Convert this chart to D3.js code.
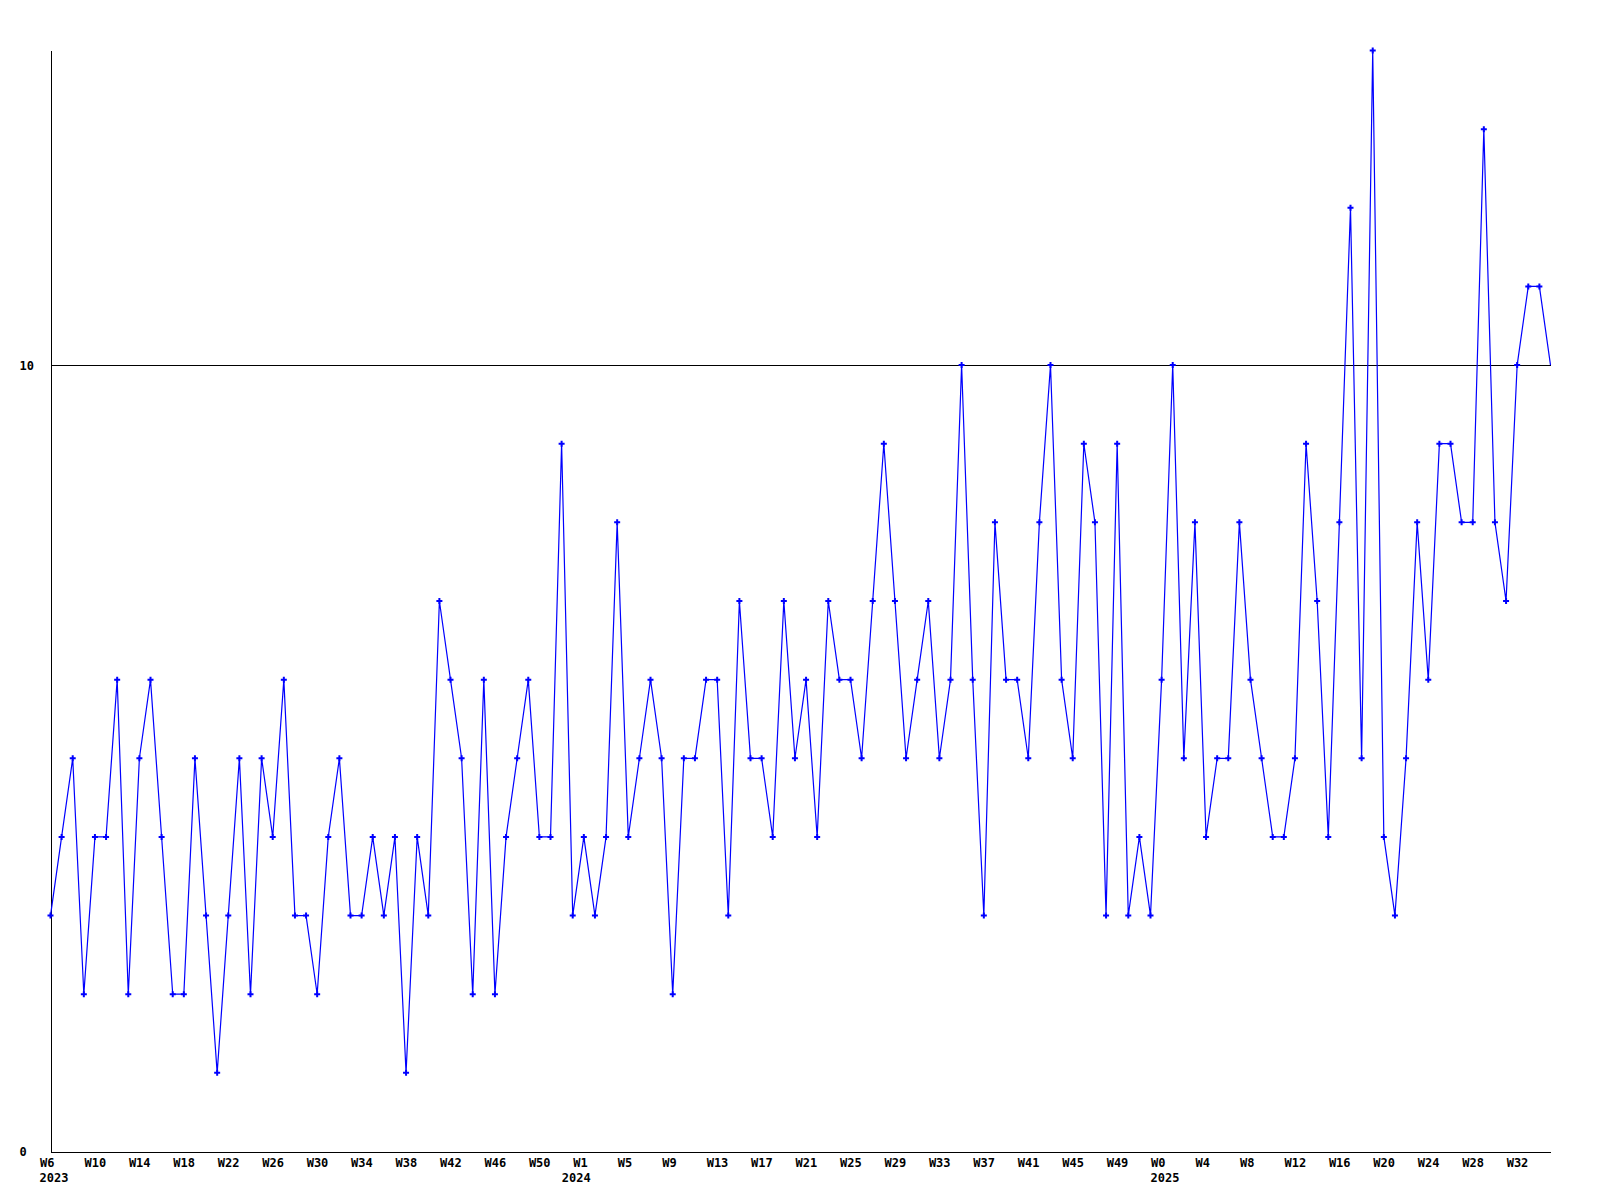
<!DOCTYPE html>
<html>
<head>
<meta charset="utf-8">
<script src="https://cdn.jsdelivr.net/npm/d3@7"></script>
<style>
  html, body { margin: 0; padding: 0; background: #fff; }
  svg { display: block; }
  text { font-family: "DejaVu Sans Mono", "Liberation Mono", monospace; font-weight: bold; font-size: 12px; fill: #000; }
</style>
</head>
<body>
<svg id="chart" width="1600" height="1200"></svg>
<script>
// ---- data ----
const years = ["2023", "2024", "2025"];
const weeks2023 = d3.range(6, 54).map(w => "2023-W" + w);   // W6 .. W53
const weeks2024 = d3.range(1, 53).map(w => "2024-W" + w);   // W1 .. W52
const weeks2025 = d3.range(0, 36).map(w => "2025-W" + w);   // W0 .. W35
const categories = weeks2023.concat(weeks2024, weeks2025);

const values = [
  3,4,5,2,4,4,6,2,5,6,4,2,2,5,3,1,3,5,2,5,4,6,3,3,2,4,5,3,3,4,3,4,1,4,3,7,6,5,
  2,6,2,4,5,6,4,4,9,3,4,3,4,8,4,5,6,5,2,5,5,6,6,3,7,5,5,4,7,5,6,4,7,6,6,5,
  7,9,7,5,6,7,5,6,10,6,3,8,6,6,5,8,10,6,5,9,8,3,9,3,4,3,6,10,5,8,4,5,5,8,6,5,
  4,4,5,9,7,4,8,12,5,14,4,3,5,8,6,9,9,8,8,13,8,7,10,11,11,10
];

const yTicks = [0, 10];
const yMax = 14;

// ---- layout ----
const svg = d3.select("#chart");
const x = d3.scalePoint().domain(categories).range([50.5, 1550.5]);
const y = d3.scaleLinear().domain([0, yMax]).range([1151.5, 50.5]);

const blue = "#0000ff";

// grid line(s) above 0
svg.append("g").selectAll("line")
  .data(yTicks.filter(t => t > 0))
  .join("line")
  .attr("x1", x.range()[0]).attr("x2", x.range()[1])
  .attr("y1", d => Math.round(y(d)) + 0.5).attr("y2", d => Math.round(y(d)) + 0.5)
  .attr("stroke", "#000").attr("stroke-width", 1)
  .attr("shape-rendering", "crispEdges");

// y axis (left) - line + labels
const yAxis = d3.axisLeft(y).tickValues(yTicks).tickSize(0).tickPadding(0).tickFormat(d3.format("d"));
const gy = svg.append("g").attr("transform", `translate(${x.range()[0]},0)`).call(yAxis);
gy.select(".domain").attr("d", `M0.5,${y(0)}V${y(yMax)}`).attr("stroke", "#000").attr("shape-rendering", "crispEdges");
gy.selectAll(".tick text")
  .attr("text-anchor", "start")
  .attr("x", 19.5 - x.range()[0])
  .attr("dy", "0.35em")
  .style("font-family", "'DejaVu Sans Mono', monospace").style("font-weight", "bold").style("font-size", "12px");

// x axis (bottom) - line + week labels every 4 points
const tickCats = categories.filter((c, i) => i % 4 === 0);
const xAxis = d3.axisBottom(x).tickValues(tickCats).tickSize(0).tickPadding(0)
  .tickFormat(c => c.split("-")[1]);
const gx = svg.append("g").attr("transform", `translate(0,${Math.round(y(0)) - 0.5})`).call(xAxis);
gx.select(".domain").attr("d", `M${x.range()[0]},0.5H${x.range()[1]}`).attr("stroke", "#000").attr("shape-rendering", "crispEdges");
gx.selectAll(".tick text")
  .attr("text-anchor", "start")
  .attr("x", -11)
  .attr("y", 15.5)
  .attr("dy", 0)
  .style("font-family", "'DejaVu Sans Mono', monospace").style("font-weight", "bold").style("font-size", "12px");

// year labels under the first labelled week of each year
const yearShift = { "2023": -11, "2024": -22, "2025": -11 };
const firstOfYear = years.map(yr => ({ yr, cat: tickCats.find(c => c.startsWith(yr)) }));
svg.append("g").selectAll("text")
  .data(firstOfYear)
  .join("text")
  .attr("x", d => x(d.cat) + yearShift[d.yr])
  .attr("y", Math.round(y(0)) + 30)
  .attr("text-anchor", "start")
  .text(d => d.yr);

// line series
const pts = categories.map((c, i) => ({ c, v: values[i] }));
const line = d3.line().x(d => x(d.c)).y(d => y(d.v));
svg.append("path")
  .datum(pts)
  .attr("d", line)
  .attr("fill", "none")
  .attr("stroke", blue)
  .attr("stroke-width", 1.2);

// markers (small plus signs), last point has none
svg.append("g").selectAll("path")
  .data(pts.slice(0, pts.length - 1))
  .join("path")
  .attr("transform", d => `translate(${x(d.c)},${y(d.v)})`)
  .attr("d", "M-3,0H3M0,-3V3")
  .attr("stroke", blue)
  .attr("stroke-width", 2)
  .attr("fill", "none");
</script>
</body>
</html>
